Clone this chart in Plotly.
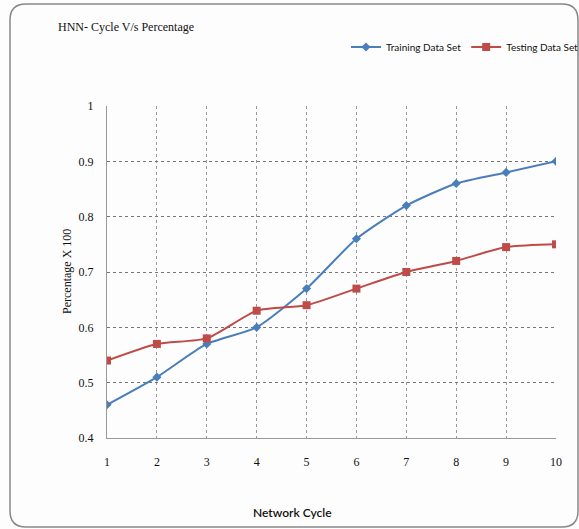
import plotly.graph_objects as go

cycles = [1, 2, 3, 4, 5, 6, 7, 8, 9, 10]
training = [0.46, 0.51, 0.57, 0.60, 0.67, 0.76, 0.82, 0.86, 0.88, 0.90]
testing = [0.54, 0.57, 0.58, 0.63, 0.64, 0.67, 0.70, 0.72, 0.745, 0.75]
y_ticks = [0.4, 0.5, 0.6, 0.7, 0.8, 0.9, 1.0]
y_tick_text = ["0.4", "0.5", "0.6", "0.7", "0.8", "0.9", "1"]

W, H = 579, 529
L, R, T, B = 107, 23, 106, 91
PW, PH = W - L - R, H - T - B

def px(x):
    return (x - L) / PW

def py(y):
    return (H - B - y) / PH

fig = go.Figure()
fig.add_trace(go.Scatter(
    x=cycles, y=training, name="Training Data Set", mode="lines+markers",
    line=dict(color="#4A7EBB", width=2, shape="spline", smoothing=0.6),
    marker=dict(symbol="diamond", size=7, color="#4A7EBB"),
))
fig.add_trace(go.Scatter(
    x=cycles, y=testing, name="Testing Data Set", mode="lines+markers",
    line=dict(color="#BE4B48", width=2, shape="spline", smoothing=0.6),
    marker=dict(symbol="square", size=8, color="#BE4B48"),
))

# rounded frame
x0, x1, y0, y1, r = 10, 578, 4, 527, 16
path = (f"M {px(x0+r)},{py(y0)} L {px(x1-r)},{py(y0)} "
        f"Q {px(x1)},{py(y0)} {px(x1)},{py(y0+r)} L {px(x1)},{py(y1-r)} "
        f"Q {px(x1)},{py(y1)} {px(x1-r)},{py(y1)} L {px(x0+r)},{py(y1)} "
        f"Q {px(x0)},{py(y1)} {px(x0)},{py(y1-r)} L {px(x0)},{py(y0+r)} "
        f"Q {px(x0)},{py(y0)} {px(x0+r)},{py(y0)} Z")

fig.update_layout(
    width=W, height=H, autosize=False,
    margin=dict(l=L, r=R, t=T, b=B, autoexpand=False),
    paper_bgcolor="#fdfdfd", plot_bgcolor="#fdfdfd",
    showlegend=True,
    legend=dict(orientation="h", xref="paper", yref="paper",
                x=px(584), xanchor="right", y=py(47), yanchor="middle",
                font=dict(family="Lato", size=10, color="#111"),
                bgcolor="rgba(0,0,0,0)", itemwidth=30, tracegroupgap=0),
    shapes=[dict(type="path", path=path, xref="paper", yref="paper",
                 line=dict(color="#888", width=1.5), layer="below")],
    annotations=[
        dict(text="HNN- Cycle V/s Percentage", x=px(56), y=py(27), xref="paper", yref="paper",
             xanchor="left", yanchor="middle", showarrow=False,
             font=dict(family="Liberation Serif", size=12, color="#111")),
        dict(text="Network Cycle", x=px(292), y=py(512), xref="paper", yref="paper",
             xanchor="center", yanchor="middle", showarrow=False,
             font=dict(family="Lato", size=12, color="#111", weight=600)),
        dict(text="Percentage X 100", x=px(67), y=py(272), xref="paper", yref="paper",
             xanchor="center", yanchor="middle", showarrow=False, textangle=-90,
             font=dict(family="Liberation Serif", size=12, color="#111")),
    ],
)
fig.update_xaxes(
    range=[1, 10], tickvals=cycles, showgrid=True, gridcolor="#999", griddash="dot",
    gridwidth=1, showline=True, linecolor="#999", linewidth=1, zeroline=False,
    ticks="", ticklabelstandoff=13,
    tickfont=dict(family="Liberation Serif", size=12, color="#111"),
)
fig.update_yaxes(
    range=[0.4, 1.0], tickvals=y_ticks, ticktext=y_tick_text, showgrid=True,
    gridcolor="#777", griddash="dot", gridwidth=1, showline=True, linecolor="#999",
    linewidth=1, zeroline=False, ticks="", ticklabelstandoff=10,
    tickfont=dict(family="Liberation Serif", size=12, color="#111"),
)

fig.write_html("out.html", config={"responsive": False, "displayModeBar": False},
               post_script="document.body.style.margin='0';document.body.style.overflow='hidden';")
